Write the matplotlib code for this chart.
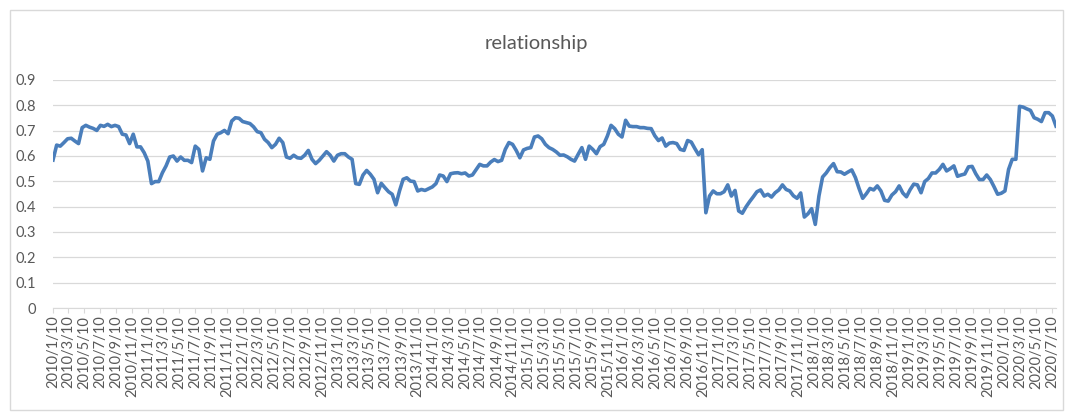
import pandas as pd
import matplotlib
matplotlib.use("Agg")
import matplotlib.pyplot as plt
from matplotlib.patches import Rectangle

plt.rcParams['font.family'] = ['Lato', 'DejaVu Sans']

# ---- data: one reading every 14 days from 2010/1/10 ----
start_date = "2010-01-10"
step = "14D"
relationship = [
    0.584, 0.643, 0.639, 0.653, 0.668, 0.670, 0.659, 0.649, 0.712, 0.721,
    0.714, 0.709, 0.701, 0.721, 0.717, 0.725, 0.716, 0.721, 0.716, 0.686,
    0.683, 0.649, 0.686, 0.636, 0.636, 0.613, 0.580, 0.491, 0.499, 0.499,
    0.534, 0.561, 0.596, 0.600, 0.580, 0.596, 0.583, 0.583, 0.574, 0.639,
    0.626, 0.541, 0.593, 0.587, 0.659, 0.686, 0.692, 0.701, 0.688, 0.738,
    0.751, 0.749, 0.736, 0.732, 0.728, 0.715,
    0.696, 0.692, 0.666, 0.653, 0.633, 0.646, 0.670, 0.653, 0.596, 0.591,
    0.603, 0.593, 0.591, 0.603, 0.622, 0.587, 0.570, 0.583, 0.600, 0.617,
    0.603, 0.580, 0.603, 0.609, 0.609, 0.596, 0.587, 0.491, 0.488, 0.525,
    0.543, 0.528, 0.508, 0.455, 0.492, 0.475, 0.459, 0.449, 0.407, 0.462,
    0.508, 0.514, 0.501, 0.499, 0.462, 0.468, 0.464, 0.471, 0.478, 0.491,
    0.525, 0.521, 0.499, 0.530, 0.533,
    0.534, 0.530, 0.533, 0.521, 0.525, 0.546, 0.567, 0.561, 0.561, 0.576,
    0.586, 0.578, 0.583, 0.626, 0.653, 0.646, 0.622, 0.593, 0.624, 0.630,
    0.633, 0.675, 0.679, 0.668, 0.646, 0.633, 0.626, 0.616, 0.603, 0.604,
    0.597, 0.587, 0.580, 0.607, 0.633, 0.587, 0.639, 0.626, 0.609, 0.637,
    0.646, 0.679, 0.721, 0.708, 0.686, 0.675, 0.741, 0.718, 0.716, 0.716,
    0.712, 0.712, 0.709, 0.708, 0.680,
    0.661, 0.671, 0.639, 0.651, 0.653, 0.649, 0.626, 0.622, 0.661, 0.655,
    0.629, 0.605, 0.625, 0.376, 0.442, 0.462, 0.451, 0.451, 0.459, 0.486,
    0.442, 0.464, 0.383, 0.374, 0.399, 0.420, 0.439, 0.459, 0.466, 0.442,
    0.449, 0.438, 0.455, 0.466, 0.486, 0.468, 0.462, 0.443, 0.433, 0.454,
    0.359, 0.372, 0.392, 0.330, 0.442, 0.517, 0.533, 0.554, 0.570, 0.538,
    0.537, 0.528, 0.537, 0.545, 0.515,
    0.472, 0.433, 0.451, 0.472, 0.466, 0.482, 0.462, 0.425, 0.422, 0.446,
    0.459, 0.482, 0.454, 0.439, 0.467, 0.489, 0.486, 0.455, 0.499, 0.511,
    0.533, 0.533, 0.547, 0.567, 0.541, 0.550, 0.561, 0.520, 0.525, 0.529,
    0.557, 0.559, 0.530, 0.507, 0.507, 0.525, 0.507, 0.479, 0.449, 0.453,
    0.462, 0.547, 0.587, 0.587, 0.796, 0.793, 0.786, 0.780, 0.751, 0.745,
    0.736, 0.771, 0.771, 0.758, 0.718,
]
dates = pd.date_range(start=start_date, periods=len(relationship), freq=step)

# x labels every two months, on the 10th
tick_dates = pd.date_range("2010-01-01", "2020-07-01", freq="2MS") + pd.Timedelta(days=9)
tick_labels = [f"{d.year}/{d.month}/{d.day}" for d in tick_dates]
y_ticks = [0, 0.1, 0.2, 0.3, 0.4, 0.5, 0.6, 0.7, 0.8, 0.9]

# ---- plot ----
fig = plt.figure(figsize=(10.73, 4.17), dpi=100)
fig.patch.set_facecolor("white")
fig.patches.append(Rectangle((10 / 1073, 1 - 410 / 417), 1053 / 1073, 400 / 417,
                             transform=fig.transFigure, fill=False,
                             edgecolor="#d9d9d9", linewidth=1.0))

ax = fig.add_axes([53 / 1073, 1 - 308 / 417, 1003 / 1073, 228 / 417])
ax.plot(dates, relationship, color="#4a7ebb", linewidth=2.6, solid_joinstyle="round")

ax.set_ylim(0, 0.9)
ax.set_yticks(y_ticks)
ax.set_yticklabels([f"{v:g}" for v in y_ticks])
ax.set_xlim(dates[0], dates[-1])
ax.set_xticks(tick_dates)
ax.set_xticklabels(tick_labels, rotation=90)

ax.grid(axis="y", color="#d9d9d9", linewidth=0.9)
ax.set_axisbelow(True)
for s in ["top", "right", "left"]:
    ax.spines[s].set_visible(False)
ax.spines["bottom"].set_color("#d9d9d9")
ax.tick_params(axis="y", length=0, pad=12, labelsize=10.5, labelcolor="#595959")
ax.tick_params(axis="x", length=3.5, color="#d9d9d9", pad=2, labelsize=10.5,
               labelcolor="#595959")

fig.text(0.5, 1 - 43 / 417, "relationship", ha="center", va="center",
         fontsize=14.5, color="#595959")

fig.savefig("out.png", dpi=100)
